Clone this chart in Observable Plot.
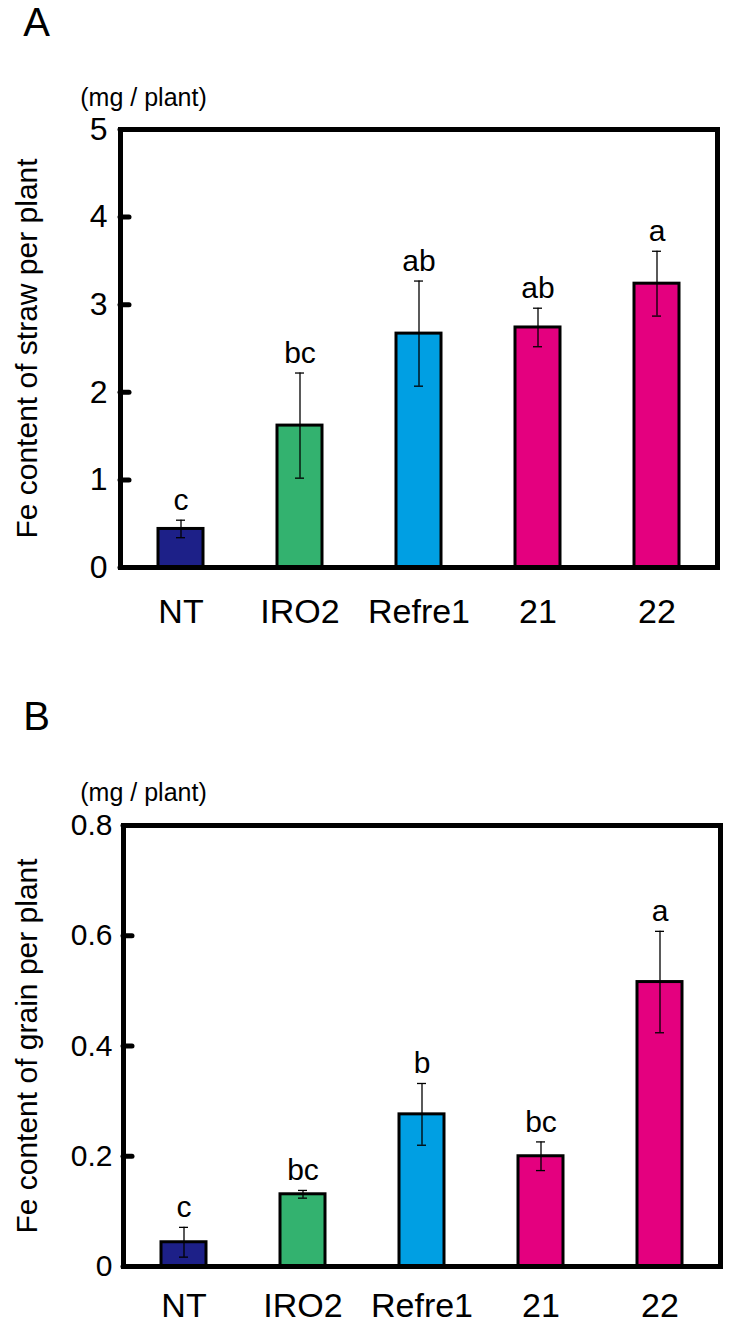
<!DOCTYPE html>
<html>
<head>
<meta charset="utf-8">
<script src="https://cdn.jsdelivr.net/npm/d3@7"></script>
<script src="https://cdn.jsdelivr.net/npm/@observablehq/plot@0.6"></script>
<style>
  html, body { margin: 0; padding: 0; background: #fff; }
  #chart { width: 733px; }
  #chart svg { display: block; }
</style>
</head>
<body>
<div id="chart"></div>
<script>
const categories = ["NT", "IRO2", "Refre1", "21", "22"];
const colors = ["#1d2088", "#33b26f", "#009fe3", "#e4007f", "#e4007f"];

const strawMean = [0.44, 1.62, 2.67, 2.74, 3.24];
const strawErr = [0.10, 0.60, 0.60, 0.22, 0.37];
const strawLetters = ["c", "bc", "ab", "ab", "a"];
const strawTicks = [0, 1, 2, 3, 4, 5];

const grainMean = [0.044, 0.131, 0.276, 0.200, 0.516];
const grainErr = [0.027, 0.007, 0.056, 0.026, 0.092];
const grainLetters = ["c", "bc", "b", "bc", "a"];
const grainTicks = [0, 0.2, 0.4, 0.6, 0.8];

const panels = [
  {tag: "A", unit: "(mg / plant)", title: "Fe content of straw per plant",
   mean: strawMean, err: strawErr, letters: strawLetters, ticks: strawTicks, domain: [0, 5],
   height: 690, mt: 129, mb: 123, ml: 120, mr: 16, tickPad: 13, xPad: 31, yFont: 32,
   tagDx: -84, tagDy: -106, unitDx: 23, unitDy: -32, titleDx: -93},
  {tag: "B", unit: "(mg / plant)", title: "Fe content of grain per plant",
   mean: grainMean, err: grainErr, letters: grainLetters, ticks: grainTicks, domain: [0, 0.8],
   height: 642, mt: 135, mb: 66, ml: 123, mr: 13, tickPad: 11, xPad: 26, yFont: 30,
   tagDx: -87, tagDy: -108, unitDx: 20, unitDy: -33, titleDx: -96}
];

const font = "'Liberation Sans', Arial, Helvetica, sans-serif";

for (const p of panels) {
  const rows = categories.map((c, i) => ({
    cat: c, mean: p.mean[i], lo: p.mean[i] - p.err[i], hi: p.mean[i] + p.err[i],
    letter: p.letters[i], color: colors[i]
  }));
  const frameWidth = 733 - p.ml - p.mr;
  const chart = Plot.plot({
    width: 733,
    height: p.height,
    marginTop: p.mt,
    marginBottom: p.mb,
    marginLeft: p.ml,
    marginRight: p.mr,
    style: {fontFamily: font, fontSize: "30px", color: "#000", background: "#fff", overflow: "visible"},
    x: {domain: categories, paddingInner: 0.62, paddingOuter: 0.31, label: null},
    y: {domain: p.domain, label: null},
    marks: [
      Plot.barY(rows, {x: "cat", y: "mean", fill: "color", stroke: "#000", strokeWidth: 3}),
      Plot.ruleX(rows, {x: "cat", y1: "lo", y2: "hi", stroke: "#000", strokeWidth: 1.3}),
      Plot.tickY(rows, {x: "cat", y: "lo", stroke: "#000", strokeWidth: 1.3, insetLeft: 18, insetRight: 18}),
      Plot.tickY(rows, {x: "cat", y: "hi", stroke: "#000", strokeWidth: 1.3, insetLeft: 18, insetRight: 18}),
      Plot.text(rows, {x: "cat", y: "hi", text: "letter", dy: -20, lineAnchor: "middle", fontSize: 30, fill: "#000"}),
      // short inward tick marks on the left frame
      Plot.tickY(p.ticks, {y: d => d, stroke: "#000", strokeWidth: 5, insetRight: frameWidth - 9, strokeLinecap: "round"}),
      Plot.frame({stroke: "#000", strokeWidth: 5}),
      Plot.axisY({ticks: p.ticks, tickFormat: d => String(d), tickSize: 0, tickPadding: p.tickPad,
                  fontSize: p.yFont, label: null}),
      Plot.axisX({tickSize: 0, tickPadding: p.xPad, fontSize: 34, label: null}),
      Plot.text([p.title], {frameAnchor: "left", rotate: -90, dx: p.titleDx, fontSize: 30, textAnchor: "middle", lineAnchor: "middle", fill: "#000"}),
      Plot.text([p.tag], {frameAnchor: "top-left", dx: p.tagDx, dy: p.tagDy, fontSize: 40, textAnchor: "middle", lineAnchor: "middle", fill: "#000"}),
      Plot.text([p.unit], {frameAnchor: "top-left", dx: p.unitDx, dy: p.unitDy, fontSize: 25, textAnchor: "middle", lineAnchor: "middle", fill: "#000"})
    ]
  });
  document.getElementById("chart").appendChild(chart);
}
</script>
</body>
</html>
